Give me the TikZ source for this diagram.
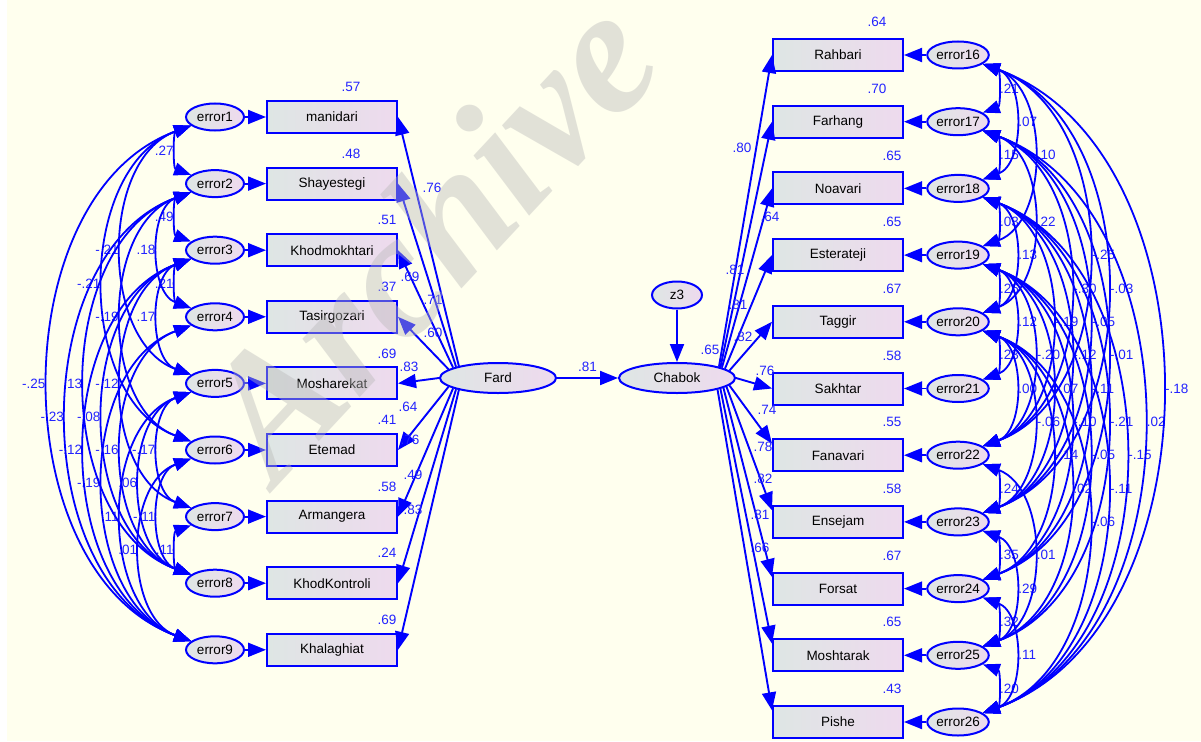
\documentclass[tikz,border=0pt]{standalone}
\usepackage{fontspec}
\setmainfont{Liberation Sans}
\newfontfamily\wmfont{Liberation Serif}
\usetikzlibrary{shapes.geometric,arrows.meta}

\definecolor{amosblue}{RGB}{0,0,255}
\definecolor{estblue}{RGB}{35,35,255}
\definecolor{boxL}{RGB}{222,230,228}
\definecolor{boxR}{RGB}{238,218,238}
\definecolor{paper}{RGB}{255,255,238}

\begin{document}
\begin{tikzpicture}[x=1pt,y=-1pt,
  obs/.style={rectangle,draw=amosblue,line width=2pt,minimum width=130pt,minimum height=32pt,inner sep=0pt,left color=boxL,right color=boxR,font=\fontsize{13.5}{14}\selectfont},
  err/.style={ellipse,draw=amosblue,line width=2pt,minimum width=58pt,minimum height=27pt,inner sep=0pt,left color=boxL,right color=boxR,font=\fontsize{13.5}{14}\selectfont},
  lat/.style={err,minimum width=116pt,minimum height=30pt},
  reg/.style={-{Triangle[length=18pt,width=14pt]},draw=amosblue,line width=1.9pt},
  cov/.style={{Triangle[length=17pt,width=13pt]}-{Triangle[length=17pt,width=13pt]},draw=amosblue,line width=1.8pt},
  est/.style={text=estblue,font=\fontsize{13.5}{14}\selectfont,inner sep=1pt}]
  \useasboundingbox (0,0) rectangle (1201,741);
  \fill[white] (0,0) rectangle (1201,741);
  \fill[paper] (7,0) rectangle (1201,741);

  % latent variables
  \node[lat] (fard) at (498,378) {Fard};
  \node[lat] (chabok) at (677,378) {Chabok};
  \node[err,minimum width=50pt] (z3) at (677,295) {z3};
  \draw[reg] (fard) -- node[est,above=4pt] {.81} (chabok);
  \draw[reg] (z3) -- (chabok);
  \node[est] at (710,350) {.65};

  % left indicators
  \foreach \n/\name/\rr/\rx/\ang in {1/manidari/.57/351/163, 2/Shayestegi/.48/351/165, 3/Khodmokhtari/.51/387/167, 4/Tasirgozari/.37/387/170, 5/Mosharekat/.69/387/180, 6/Etemad/.41/387/190, 7/Armangera/.58/387/193, 8/KhodKontroli/.24/387/195, 9/Khalaghiat/.69/387/197}{
    \pgfmathsetmacro\yy{117+66.6*(\n-1)}
    \node[err] (e\n) at (215,\yy) {error\n};
    \node[obs] (m\n) at (332,\yy) {\name};
    \node[est] at (\rx,\yy-30) {\rr};
    \draw[reg] (e\n) -- (m\n);
    \draw[reg] (fard.\ang) -- (m\n.east);
  }
  \foreach \v/\lx/\ly in {.76/432/188, .69/410/277, .71/433/300, .60/433/333, .83/409/367, .64/408/407, .76/410/440, .49/413/475, .83/413/510}
    \node[est] at (\lx,\ly) {\v};

  % right indicators
  \foreach \n/\name/\rr/\rx/\an/\ang in {16/Rahbari/.64/877/west/15, 17/Farhang/.70/877/west/14, 18/Noavari/.65/892/west/13, 19/Esterateji/.65/892/west/11, 20/Taggir/.67/892/west/8, 21/Sakhtar/.58/892/west/0, 22/Fanavari/.55/892/170/-8, 23/Ensejam/.58/892/170/-10, 24/Forsat/.67/892/170/-12, 25/Moshtarak/.65/892/170/-14, 26/Pishe/.43/892/170/-16}{
    \pgfmathsetmacro\yy{55+66.7*(\n-16)}
    \node[obs] (p\n) at (838,\yy) {\name};
    \node[err] (e\n) at (958,\yy) {error\n};
    \node[est] at (\rx,\yy-33) {\rr};
    \draw[reg] (e\n) -- (p\n);
    \draw[reg] (chabok.\ang) -- (p\n.\an);
  }
  \foreach \v/\lx/\ly in {.80/742/148, .64/770/217, .81/735/270, .81/738/305, .82/743/337, .76/765/371, .74/767/410, .78/763/447, .82/763/479, .81/760/515, .66/760/548}
    \node[est] at (\lx,\ly) {\v};

  % covariances between errors
  \foreach \a/\b/\v in {1/2/.27, 2/3/.49, 3/4/.21, 7/8/.11, 2/4/.18, 3/5/.17, 5/7/-.17, 6/8/-.11, 6/9/.01, 5/8/.06, 5/9/.11, 1/5/-.21, 2/6/-.19, 3/7/-.12, 4/8/-.16, 4/9/-.19, 1/6/-.21, 3/8/-.08, 2/8/.13, 3/9/-.12, 2/9/-.23, 1/9/-.25}
    \draw[cov] (e\a) to[bend right=70] node[est,left,xshift=-2pt] {\v} (e\b);
  \foreach \a/\b/\v in {16/17/.21, 17/18/.15, 18/19/.03, 19/20/.26, 20/21/.23, 22/23/.24, 23/24/.35, 24/25/.32, 25/26/.20, 16/18/.07, 18/20/.13, 19/21/.12, 20/22/.00, 23/25/.29, 24/26/.11, 16/19/.10, 17/20/.22, 19/22/-.20, 20/23/-.06, 22/25/.01, 18/22/-.19, 19/23/-.07, 20/24/-.14, 17/22/-.30, 18/23/-.12, 19/24/-.10, 20/25/.02, 16/22/-.25, 17/23/-.05, 18/24/-.11, 19/25/-.05, 20/26/-.06, 16/23/-.03, 17/24/-.01, 18/25/-.21, 19/26/-.11, 18/26/-.15, 17/26/.02, 16/26/-.18}
    \draw[cov] (e\a) to[bend left=70] node[est,right,xshift=2pt] {\v} (e\b);

  % watermark
  \node[rotate=47,text={rgb,255:red,185;green,185;blue,185},opacity=0.42,font=\wmfont\fontsize{178}{178}\selectfont\bfseries\itshape] at (428,236) {Archive};
\end{tikzpicture}
\end{document}
